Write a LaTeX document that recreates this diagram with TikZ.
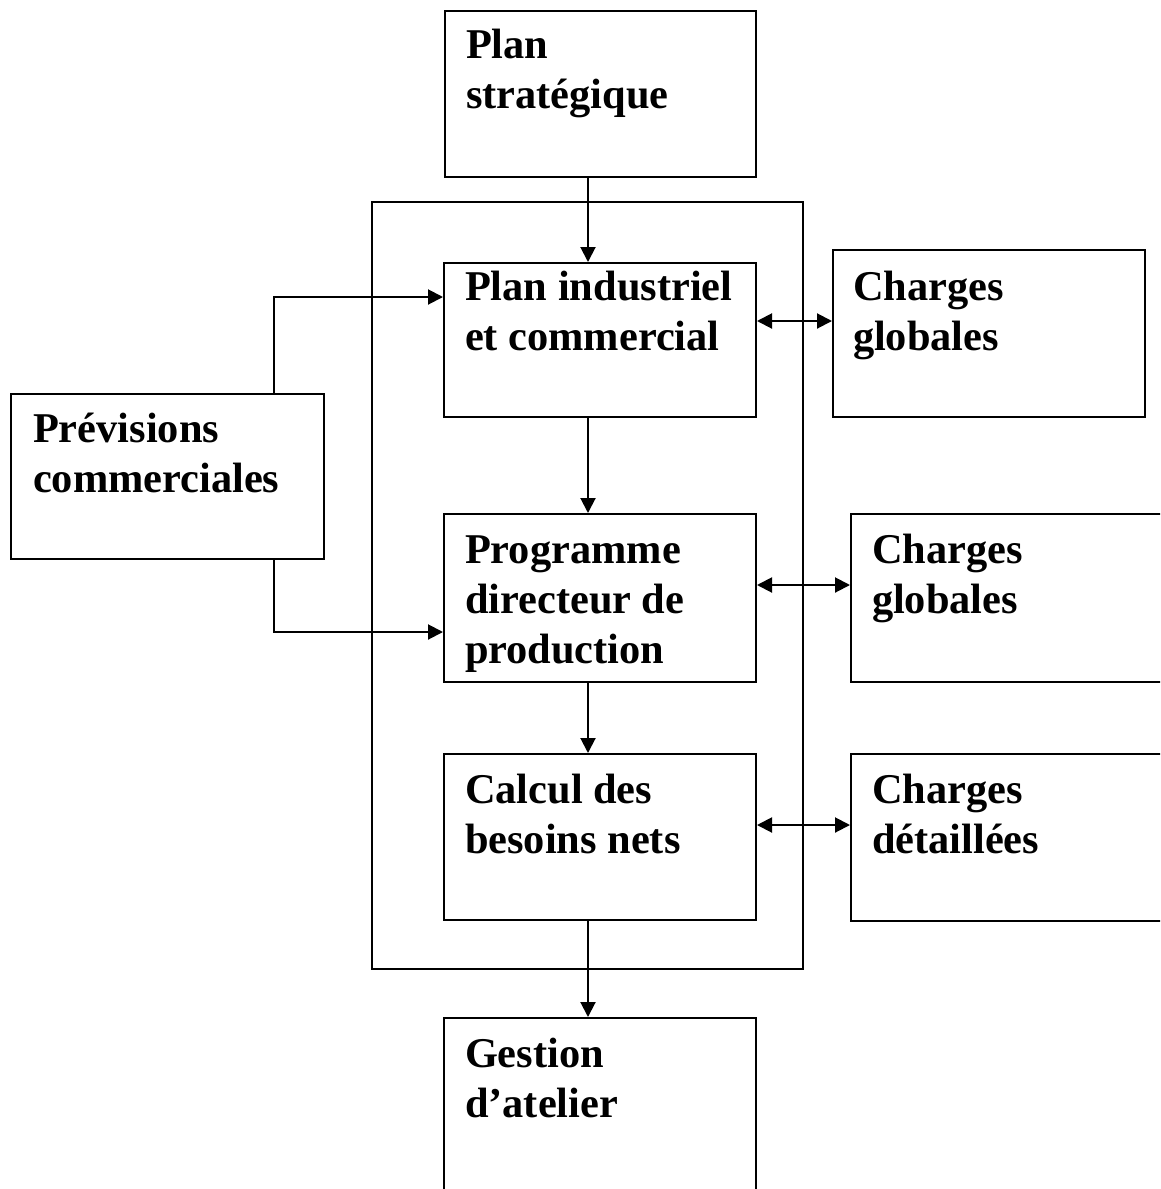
\documentclass[tikz,border=0pt]{standalone}
\usepackage{fontspec}
\setmainfont{Liberation Serif}
\usetikzlibrary{arrows.meta}
\begin{document}
\begin{tikzpicture}[x=1pt,y=-1pt,
  line width=2pt,
  box/.style={draw, rectangle, inner sep=0pt, anchor=north west},
  lbl/.style={anchor=base west, inner sep=0pt, align=left,
    font=\fontsize{42.4}{50}\selectfont\bfseries},
  arr/.style={-{Triangle[length=15pt,width=15pt]}},
  darr/.style={{Triangle[length=15pt,width=15pt]}-{Triangle[length=15pt,width=15pt]}}]
\clip (0,0) rectangle (1160,1189);
\fill[white] (0,0) rectangle (1160,1189);

% frame around the MRP core
\node[box, minimum width=431pt, minimum height=767pt] (frame) at (371,201) {};

% boxes
\node[box, minimum width=311pt, minimum height=166pt] (strat) at (444,10) {};
\node[box, minimum width=312pt, minimum height=154pt] (pic) at (443,262) {};
\node[box, minimum width=312pt, minimum height=167pt] (cg1) at (832,249) {};
\node[box, minimum width=313pt, minimum height=165pt] (prev) at (10,393) {};
\node[box, minimum width=312pt, minimum height=168pt] (pdp) at (443,513) {};
\node[box, minimum width=314pt, minimum height=168pt] (cg2) at (850,513) {};
\node[box, minimum width=312pt, minimum height=166pt] (cbn) at (443,753) {};
\node[box, minimum width=314pt, minimum height=167pt] (cd) at (850,753) {};
\node[box, minimum width=312pt, minimum height=180pt] (ga) at (443,1017) {};

% labels (anchored at the baseline of their last line)
\node[lbl] (tstrat) at ([shift={(21,98)}]strat.north west) {Plan\\stratégique};
\node[lbl] (tpic) at ([shift={(21,88)}]pic.north west) {Plan industriel\\et commercial};
\node[lbl] (tcg1) at ([shift={(20,101)}]cg1.north west) {Charges\\globales};
\node[lbl] (tprev) at ([shift={(22,99)}]prev.north west) {Prévisions\\commerciales};
\node[lbl] (tpdp) at ([shift={(21,150)}]pdp.north west) {Programme\\directeur de\\production};
\node[lbl] (tcg2) at ([shift={(21,100)}]cg2.north west) {Charges\\globales};
\node[lbl] (tcbn) at ([shift={(21,100)}]cbn.north west) {Calcul des\\besoins nets};
\node[lbl] (tcd) at ([shift={(21,100)}]cd.north west) {Charges\\détaillées};
\node[lbl] (tga) at ([shift={(21,100)}]ga.north west) {Gestion\\d’atelier};

% vertical flow
\draw[arr] (strat.south -| 588,0) -- (pic.north -| 588,0);
\draw[arr] (pic.south -| 588,0) -- (pdp.north -| 588,0);
\draw[arr] (pdp.south -| 588,0) -- (cbn.north -| 588,0);
\draw[arr] (cbn.south -| 588,0) -- (ga.north -| 588,0);

% forecasts feeding the plans
\draw[arr] (prev.north -| 274,0) |- (pic.west |- 0,297);
\draw[arr] (prev.south -| 274,0) |- (pdp.west |- 0,632);

% load exchanges
\draw[darr] (pic.east |- 0,321) -- (cg1.west |- 0,321);
\draw[darr] (pdp.east |- 0,585) -- (cg2.west |- 0,585);
\draw[darr] (cbn.east |- 0,825) -- (cd.west |- 0,825);
\end{tikzpicture}
\end{document}
